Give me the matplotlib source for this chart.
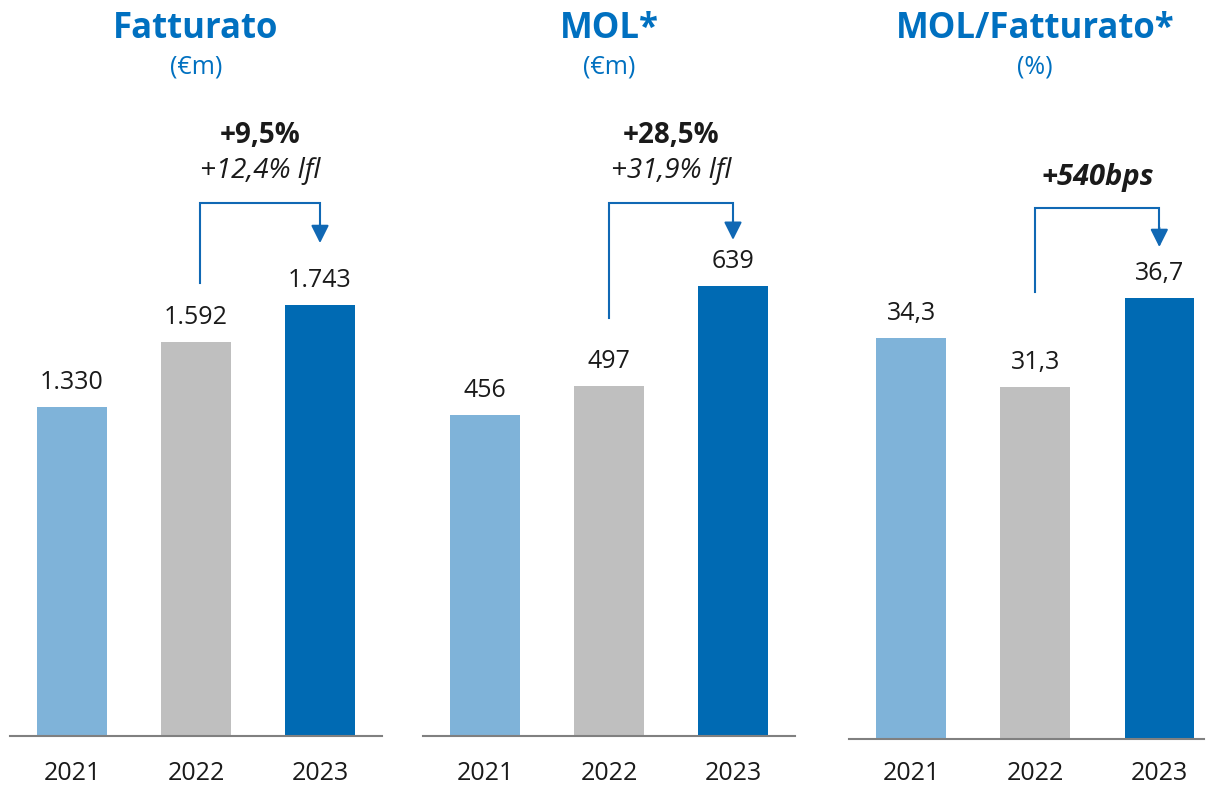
import matplotlib.pyplot as plt
from matplotlib.transforms import blended_transform_factory

# Data
years = ["2021", "2022", "2023"]
fatturato = [1330, 1592, 1743]
mol = [456, 497, 639]
mol_fatturato = [34.3, 31.3, 36.7]

fatturato_labels = ["1.330", "1.592", "1.743"]
mol_labels = ["456", "497", "639"]
margin_labels = ["34,3", "31,3", "36,7"]

titles = ["Fatturato", "MOL*", "MOL/Fatturato*"]
units = ["(€m)", "(€m)", "(%)"]
growth_main = ["+9,5%", "+28,5%", "+540bps"]
growth_lfl = ["+12,4% lfl", "+31,9% lfl", None]

bar_colors = ["#7FB3D9", "#BFBFBF", "#006AB3"]
title_blue = "#0070C0"
arrow_blue = "#1068B4"

plt.rcParams["font.family"] = ["Open Sans", "DejaVu Sans"]

W, H = 1209, 788
fig = plt.figure(figsize=(W / 100, H / 100), dpi=100)


def px_axes(left, right, bottom, top):
    return fig.add_axes([left / W, 1 - bottom / H, (right - left) / W, (bottom - top) / H])


# axes placed in pixel coordinates
ax1 = px_axes(10, 382, 736, 90)
ax2 = px_axes(423, 795, 736, 90)
ax3 = px_axes(849, 1204, 739, 90)

panels = [
    (ax1, fatturato, fatturato_labels, (0, 2611), (-0.5, 2.5)),
    (ax2, mol, mol_labels, (0, 917), (-0.5, 2.5)),
    (ax3, mol_fatturato, margin_labels, (10, 49.3), (-0.5, 2.36)),
]

# bracket geometry in axes fraction: (left x, start y, top y, tip y)
brackets = [
    (1.03, 0.701, 0.825, 0.763),
    (1.0, 0.647, 0.825, 0.768),
    (1.0, 0.689, 0.818, 0.758),
]
text_y = [(0.918, 0.864), (0.918, 0.864), (0.854, None)]
tick_pad = [18, 18, 16]

for i, (ax, values, labels, ylim, xlim) in enumerate(panels):
    x = range(len(years))
    ax.bar(x, values, width=0.56, color=bar_colors)
    ax.set_ylim(*ylim)
    ax.set_xlim(*xlim)

    # Value labels
    for xi, v, lab in zip(x, values, labels):
        ax.annotate(lab, (xi, v), xytext=(0, 13), textcoords="offset points",
                    ha="center", va="baseline", fontsize=18, color="#1a1a1a")

    # Axis styling
    for side in ["top", "left", "right"]:
        ax.spines[side].set_visible(False)
    ax.spines["bottom"].set_color("#808080")
    ax.spines["bottom"].set_linewidth(1.5)
    ax.set_yticks([])
    ax.set_xticks(list(x))
    ax.set_xticklabels(years, fontsize=18, color="#1a1a1a")
    ax.tick_params(axis="x", length=0, pad=tick_pad[i])

    # Titles
    tr = blended_transform_factory(ax.transData, fig.transFigure)
    ax.text(1, 1 - 38 / H, titles[i], transform=tr, ha="center", va="baseline",
            fontsize=25, fontweight="bold", color=title_blue)
    ax.text(1, 1 - 74 / H, units[i], transform=tr, ha="center", va="baseline",
            fontsize=18, color=title_blue)

    # Bracket arrow
    bx, y0, ytop, ytip = brackets[i]
    tr2 = blended_transform_factory(ax.transData, ax.transAxes)
    ax.plot([bx, bx, 2, 2], [y0, ytop, ytop, ytip + 0.01], transform=tr2,
            color=arrow_blue, lw=1.5, solid_joinstyle="miter", clip_on=False)
    ax.annotate("", xy=(2, ytip), xytext=(2, ytip + 0.03), xycoords=tr2, textcoords=tr2,
                arrowprops=dict(arrowstyle="-|>,head_length=0.4,head_width=0.2",
                                mutation_scale=27, color=arrow_blue, lw=1.5,
                                shrinkA=0, shrinkB=0))

    # Growth text
    mid = (bx + 2) / 2
    ty_main, ty_lfl = text_y[i]
    if growth_lfl[i] is None:
        ax.text(mid, ty_main, growth_main[i], transform=tr2, ha="center", va="baseline",
                fontsize=21, fontweight="bold", fontstyle="italic", color="#1a1a1a")
    else:
        ax.text(mid, ty_main, growth_main[i], transform=tr2, ha="center", va="baseline",
                fontsize=20, fontweight="bold", color="#1a1a1a")
        ax.text(mid, ty_lfl, growth_lfl[i], transform=tr2, ha="center", va="baseline",
                fontsize=20, fontstyle="italic", color="#1a1a1a")

plt.savefig("out.png", dpi=100)
plt.close()
